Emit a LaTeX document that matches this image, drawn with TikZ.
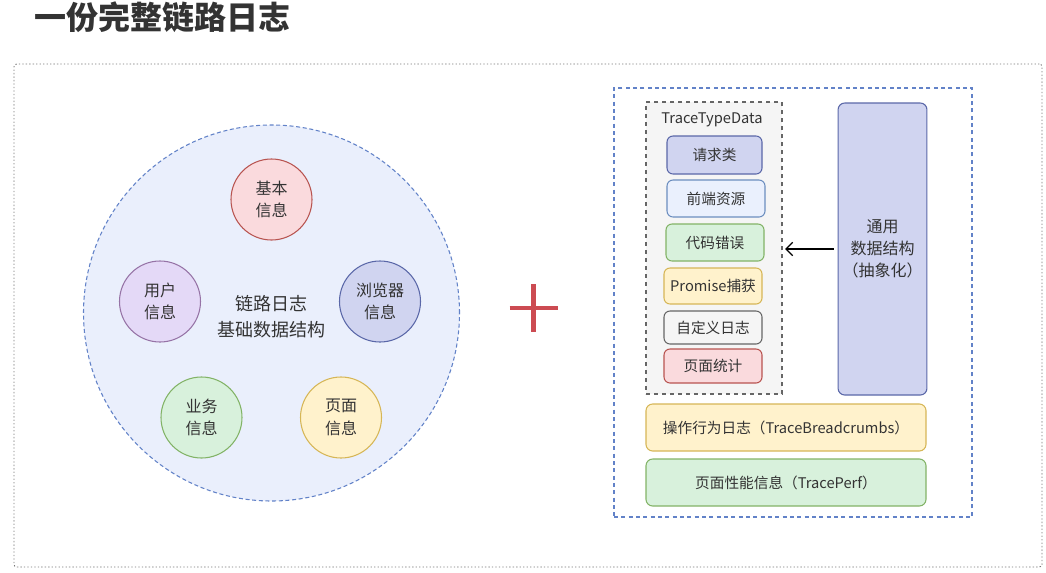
\documentclass[tikz,border=0pt]{standalone}
\usepackage{fontspec}
\setmainfont{Noto Sans CJK SC}
\usetikzlibrary{arrows.meta}
\newcommand{\pxu}{0.75pt}
\definecolor{textgray}{HTML}{333333}
\definecolor{framegray}{HTML}{777777}
\definecolor{chainfill}{HTML}{EAEFFC}
\definecolor{chainline}{HTML}{6282C8}
\definecolor{redfill}{HTML}{FADADD}
\definecolor{redline}{HTML}{B85450}
\definecolor{purplefill}{HTML}{E4D9F7}
\definecolor{purpleline}{HTML}{9673A6}
\definecolor{bluefill}{HTML}{D0D4F0}
\definecolor{blueline}{HTML}{5A67A8}
\definecolor{lightbluefill}{HTML}{EAF0FD}
\definecolor{lightblueline}{HTML}{6C8EBF}
\definecolor{greenfill}{HTML}{D8F1DC}
\definecolor{greenline}{HTML}{82B366}
\definecolor{yellowfill}{HTML}{FFF2CC}
\definecolor{yellowline}{HTML}{D6B656}
\definecolor{grayfill}{HTML}{F5F5F5}
\definecolor{grayline}{HTML}{666666}
\definecolor{plusred}{HTML}{CC4B52}
\begin{document}
\begin{tikzpicture}[x=0.75pt, y=-0.75pt]
	\tikzstyle{info}=[circle, draw, line width=0.8pt, minimum size=81*\pxu, align=center, text=textgray, font=\fontsize{12}{17}\selectfont]
	\tikzstyle{kind}=[rectangle, rounded corners=4.5pt, draw, line width=0.8pt, text=textgray, font=\fontsize{11}{13}\selectfont]
	\tikzstyle{wide}=[rectangle, rounded corners=5pt, draw, line width=0.8pt, minimum width=280*\pxu, minimum height=47*\pxu, text=textgray, font=\fontsize{11}{13}\selectfont]
	\useasboundingbox (0,0) rectangle (1046,572);
	% Title
	\node[anchor=west, inner sep=0pt, text=textgray, font=\fontsize{24}{28}\selectfont\bfseries] (title) at (34,17) {一份完整链路日志};
	% Frame
	\node[draw=framegray, dash pattern=on 1pt off 1.6pt, line width=0.7pt, rounded corners=2pt, minimum width=1028*\pxu, minimum height=503*\pxu] (frame) at (528,315.5) {};
	%---------------------%
	% Base data structure
	\node[circle, fill=chainfill, draw=chainline, dash pattern=on 3pt off 2pt, line width=0.8pt, minimum size=376*\pxu] (chain) at (271.5,313) {};
	\node[align=center, text=textgray, font=\fontsize{13.5}{20}\selectfont] (chaintext) at (271.5,316.5) {链路日志\\基础数据结构};
	\foreach \name/\x/\y/\fc/\lc/\txt in {
		base/271.5/199.5/redfill/redline/基本\\信息,
		user/160/301.5/purplefill/purpleline/用户\\信息,
		browser/380/301.5/bluefill/blueline/浏览器\\信息,
		business/201.5/417.5/greenfill/greenline/业务\\信息,
		page/341/417.5/yellowfill/yellowline/页面\\信息}
		\node[info, fill=\fc, draw=\lc] (\name) at (\x,\y) {\txt};
	% Plus
	\coordinate (plus) at (533.5,308);
	\draw[plusred, line width=3.6pt] (plus) ++(-24,0) -- ++(48,0);
	\draw[plusred, line width=3.6pt] (plus) ++(0,-24) -- ++(0,48);
	%---------------------%
	% Trace data
	\node[draw=chainline, dash pattern=on 3pt off 2.5pt, line width=0.9pt, minimum width=358*\pxu, minimum height=429*\pxu] (trace) at (793,302.5) {};
	\node[fill=grayfill, draw=grayline, dashed, line width=0.8pt, minimum width=136*\pxu, minimum height=292*\pxu] (types) at (714,248) {};
	\node[text=textgray, font=\fontsize{11}{13}\selectfont] (typestitle) at (712,119.5) {TraceTypeData};
	\foreach \name/\x/\y/\w/\h/\fc/\lc/\txt in {
		request/714.5/155/95/38/bluefill/blueline/请求类,
		resource/716/198.5/98/37/lightbluefill/lightblueline/前端资源,
		error/715/242.5/98/37/greenfill/greenline/代码错误,
		promise/713/286/98/36/yellowfill/yellowline/Promise捕获,
		custom/713/327.5/98/33/grayfill/grayline/自定义日志,
		pv/713/366/98/34/redfill/redline/页面统计}
		\node[kind, fill=\fc, draw=\lc, minimum width=\w*\pxu, minimum height=\h*\pxu] (\name) at (\x,\y) {\txt};
	\node[kind, rounded corners=5pt, fill=bluefill, draw=blueline, minimum width=87*\pxu, minimum height=292*\pxu, align=center, font=\fontsize{12}{16.5}\selectfont] (common) at (882.5,249) {通用\\数据结构\\（抽象化）};
	\node[wide, fill=yellowfill, draw=yellowline] (breadcrumbs) at (786,427.5) {操作行为日志（TraceBreadcrumbs）};
	\node[wide, fill=greenfill, draw=greenline] (perf) at (786,482.5) {页面性能信息（TracePerf）};
	% Common -> Types
	\draw[-{Straight Barb[length=5pt, width=10pt]}, line width=0.9pt, shorten <=3pt, shorten >=2pt] (common.west) -- (common.west -| types.east);
	%---------------------%
\end{tikzpicture}
\end{document}
